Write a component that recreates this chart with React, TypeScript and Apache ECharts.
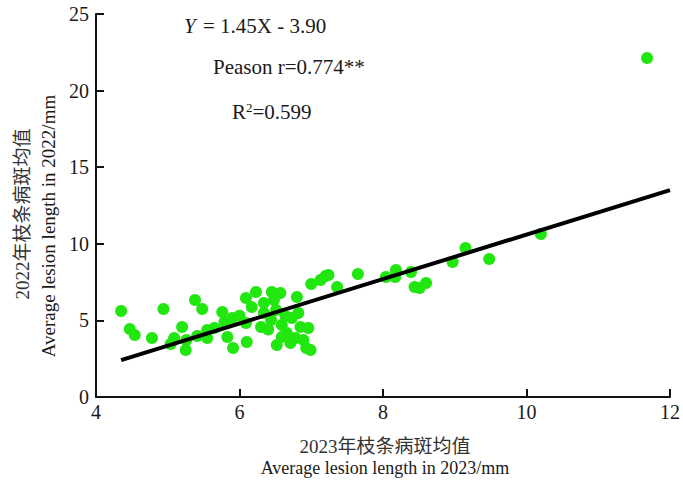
import React, { useEffect, useRef } from "react";
import * as echarts from "echarts";

const xValues2023: number[] = [
  4.35, 4.47, 4.54, 4.78, 4.94, 5.04, 5.09, 5.2, 5.26, 5.25, 5.38, 5.48, 5.41, 5.55, 5.65, 5.55,
  5.76, 5.79, 5.83, 5.91, 5.9, 6.09, 6.1, 6.23, 6.09, 6.17, 6.3, 6.34, 6.45, 6.48, 6.51, 6.57,
  6.44, 6.52, 6.59, 6.66, 6.73, 6.8, 6.85, 6.78, 6.89, 6.96, 6.93, 6.99, 6.34, 6.64, 6.71, 6.82,
  6.59, 6.0, 6.4, 7.0, 7.13, 7.2, 7.24, 7.36, 7.65, 8.04, 8.18, 8.17, 8.39, 8.44, 8.51, 8.6,
  8.97, 9.15, 9.48, 10.2, 11.68,
];
const yValues2022: number[] = [
  5.61, 4.44, 4.05, 3.85, 5.74, 3.46, 3.85, 4.57, 3.72, 3.07, 6.33, 5.74, 3.98, 4.37, 4.5, 3.85,
  5.55, 4.9, 3.92, 3.2, 5.16, 6.46, 3.59, 6.85, 4.83, 5.87, 4.57, 5.48, 6.85, 6.33, 5.68, 6.79,
  5.03, 3.39, 4.7, 4.18, 5.16, 6.53, 4.57, 3.85, 3.72, 4.5, 3.2, 3.07, 6.14, 5.29, 3.52, 5.48,
  3.92, 5.3, 4.4, 7.38, 7.64, 7.9, 7.96, 7.18, 8.03, 7.83, 8.29, 7.83, 8.16, 7.18, 7.11, 7.44,
  8.81, 9.73, 9.01, 10.64, 22.13,
];
const fitSlope = 1.45;
const fitIntercept = -3.9;
const fitXRange: number[] = [4.35, 12];
const xTicks: number[] = [4, 6, 8, 10, 12];
const yTicks: number[] = [0, 5, 10, 15, 20, 25];

const SERIF = "Liberation Serif, Noto Sans CJK SC, serif";

function txt(x: number, y: number, text: string, size: number, extra: any = {}, rotation = 0) {
  return {
    type: "text",
    x,
    y,
    rotation,
    style: {
      text,
      fontFamily: SERIF,
      fontSize: size,
      fill: "#1a1a1a",
      verticalAlign: "middle",
      ...extra,
    },
  };
}

export default function App() {
  const ref = useRef<HTMLDivElement>(null);
  useEffect(() => {
    if (!ref.current) return;
    const chart = echarts.init(ref.current, undefined, { renderer: "svg" });
    const points = xValues2023.map((x, i) => [x, yValues2022[i]]);
    const fitLine = fitXRange.map((x) => [x, fitSlope * x + fitIntercept]);
    chart.setOption({
      animation: false,
      backgroundColor: "#ffffff",
      grid: { left: 96, right: 9, top: 14, bottom: 91 },
      xAxis: {
        type: "value",
        min: xTicks[0],
        max: xTicks[xTicks.length - 1],
        interval: 2,
        axisLine: { onZero: false, lineStyle: { color: "#111", width: 2 } },
        axisTick: { inside: true, length: 8, lineStyle: { color: "#111", width: 2 } },
        axisLabel: { color: "#1a1a1a", fontSize: 20, fontFamily: SERIF, margin: 5 },
        splitLine: { show: false },
      },
      yAxis: {
        type: "value",
        min: yTicks[0],
        max: yTicks[yTicks.length - 1],
        interval: 5,
        axisLine: { show: true, onZero: false, lineStyle: { color: "#111", width: 2 } },
        axisTick: { show: true, inside: true, length: 8, lineStyle: { color: "#111", width: 2 } },
        axisLabel: { color: "#1a1a1a", fontSize: 20, fontFamily: SERIF, margin: 7 },
        splitLine: { show: false },
      },
      series: [
        {
          type: "scatter",
          data: points,
          symbol: "circle",
          symbolSize: 12,
          itemStyle: { color: "#22e60f", opacity: 1 },
          z: 2,
        },
        {
          type: "line",
          data: fitLine,
          showSymbol: false,
          symbol: "none",
          lineStyle: { color: "#000", width: 4 },
          z: 3,
        },
      ],
      graphic: [
        txt(184, 26, "{i|Y} = 1.45X - 3.90", 21, {
          rich: { i: { fontStyle: "italic", fontSize: 21, fontFamily: SERIF, fill: "#1a1a1a", padding: [0, 2, 0, 0] } },
        }),
        txt(213, 67, "Peason r=0.774**", 21),
        txt(232, 112, "R{s|2}=0.599", 21, {
          rich: { s: { fontSize: 13, fontFamily: SERIF, fill: "#1a1a1a", padding: [0, 0, 10, 0] } },
        }),
        txt(385, 446, "2023年枝条病斑均值", 19, { align: "center", fill: "#333" }),
        txt(385, 468, "Average lesion length in 2023/mm", 18, { align: "center" }),
        txt(22, 214, "2022年枝条病斑均值", 19, { align: "center", fill: "#333" }, Math.PI / 2),
        txt(48, 226, "Average lesion length in 2022/mm", 19, { align: "center" }, Math.PI / 2),
      ],
    });
    return () => chart.dispose();
  }, []);
  return <div ref={ref} style={{ width: 683, height: 488, position: "absolute", left: 0, top: 0 }} />;
}
